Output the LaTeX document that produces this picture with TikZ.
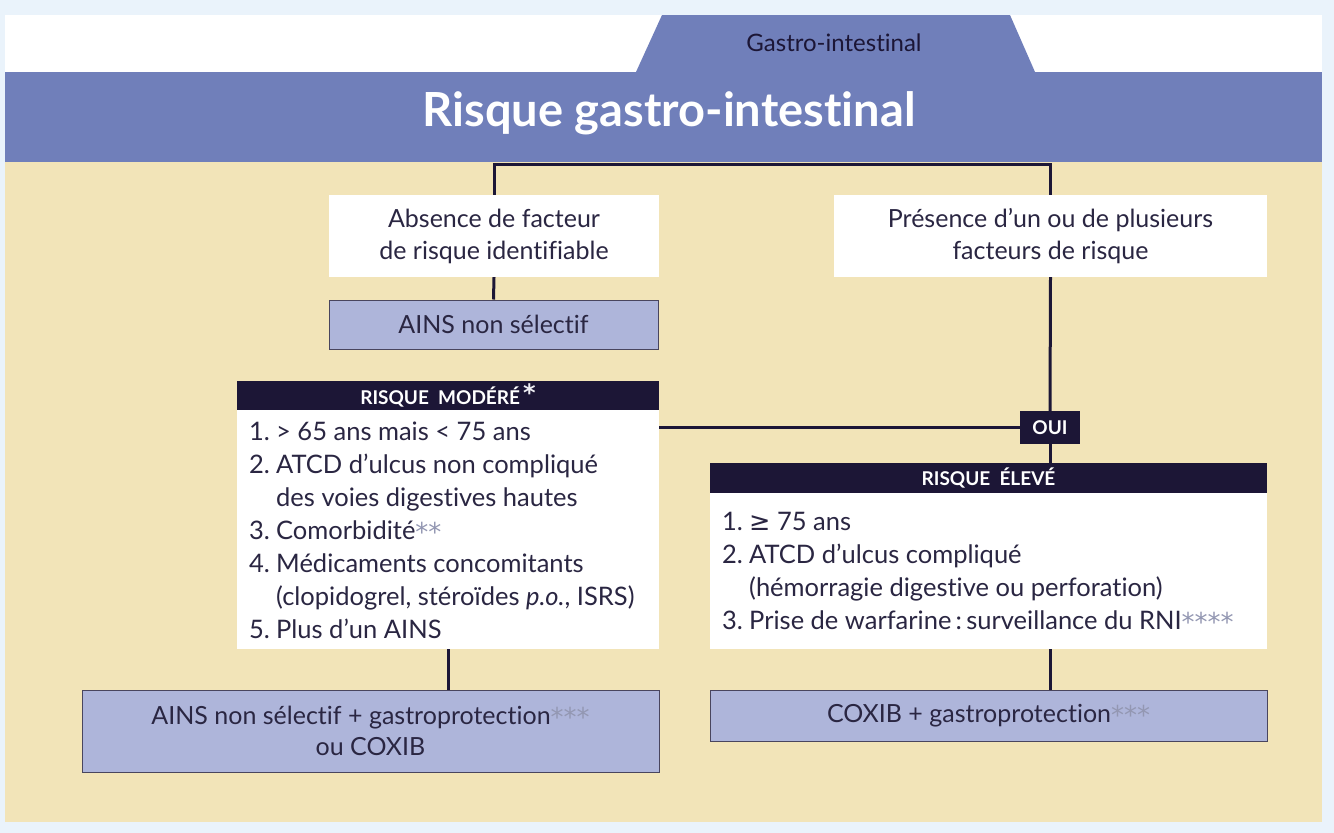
\documentclass[tikz,border=0pt]{standalone}
\usepackage{fontspec}
\setmainfont{Lato}[Ligatures=NoCommon]
\newfontfamily\sym{DejaVu Sans}
\definecolor{bgblue}{HTML}{EAF3FB}
\definecolor{band}{HTML}{707FBA}
\definecolor{beige}{HTML}{F2E4B8}
\definecolor{lav}{HTML}{AEB5DA}
\definecolor{navy}{HTML}{1C1636}
\definecolor{ink}{HTML}{2A2642}
\definecolor{star}{HTML}{9397B2}
\newcommand{\stars}[1]{\textcolor{star}{\raisebox{-2pt}{\sym\fontsize{26}{26}\selectfont #1}}}
\tikzset{
  whitebox/.style={fill=white, draw=none, text=ink, align=center, inner sep=0pt,
    font=\fontsize{25}{32}\selectfont},
  lavbox/.style={fill=lav, draw=navy!80, line width=1pt, text=ink, align=center, inner sep=0pt,
    font=\fontsize{25}{31}\selectfont},
  header/.style={fill=navy, text=white, inner sep=0pt, font=\bfseries\fontsize{19}{21}\selectfont},
  listtext/.style={text=ink, align=left, inner sep=0pt, anchor=north west,
    font=\fontsize{25.5}{33}\selectfont},
  conn/.style={draw=navy, line width=3pt}
}
\newcommand{\itm}[1]{\makebox[27pt][l]{#1}}
\newcommand{\ind}{\hspace*{27pt}}
\begin{document}
\begin{tikzpicture}[x=1pt,y=-1pt]
\useasboundingbox (0,0) rectangle (1334,833);
\fill[bgblue] (0,0) rectangle (1334,833);
\fill[white] (5,15) rectangle (1322,72);
\fill[band] (5,72) rectangle (1322,162);
\fill[band] (662,15) -- (1010,15) -- (1035,72) -- (636,72) -- cycle;
\fill[beige] (5,162) rectangle (1322,822);

\node[text=white, inner sep=0pt, font=\bfseries\fontsize{47}{50}\selectfont] (title) at (669,113) {Risque gastro-intestinal};
\node[text=navy, inner sep=0pt, font=\fontsize{24}{26}\selectfont] (tab) at (834,43) {Gastro-intestinal};

\node[whitebox, minimum width=330, minimum height=82] (absence) at (494,236) {Absence de facteur\\de risque identifiable};
\node[whitebox, minimum width=433, minimum height=82] (presence) at (1050.5,236) {Présence d’un ou de plusieurs\\facteurs de risque};
\node[lavbox, minimum width=329, minimum height=49] (ains) at (493.5,324.5) {AINS non sélectif};

\node[header, minimum width=422, minimum height=29] (modhead) at (448,395.5) {RISQUE\ \ MODÉRÉ\,\raisebox{3pt}{\textcolor{white!85!star}{\sym\fontsize{24}{24}\selectfont*}}};
\node[fill=white, inner sep=0pt, minimum width=422, minimum height=239] (modbody) at (448,529.5) {};
\node[listtext] (modlist) at (249,422) {\itm{1.}> 65 ans mais < 75 ans\\
\itm{2.}ATCD d’ulcus non compliqué\\
\ind des voies digestives hautes\\
\itm{3.}Comorbidité\stars{**}\\
\itm{4.}Médicaments concomitants\\
\ind (clopidogrel, stéroïdes \textit{p.o.}, ISRS)\\
\itm{5.}Plus d’un AINS};

\node[header, minimum width=60, minimum height=33] (oui) at (1050,427.5) {OUI};

\node[header, minimum width=557, minimum height=30] (elevehead) at (988.5,478) {RISQUE\ \ ÉLEVÉ};
\node[fill=white, inner sep=0pt, minimum width=557, minimum height=156] (elevebody) at (988.5,571) {};
\node[listtext] (elevelist) at (722,512) {\itm{1.}{\sym ≥} 75 ans\\
\itm{2.}ATCD d’ulcus compliqué\\
\ind (hémorragie digestive ou perforation)\\
\itm{3.}Prise de warfarine\,:\,surveillance du RNI\stars{****}};

\node[lavbox, minimum width=577, minimum height=82] (combo) at (370.5,731) {AINS non sélectif + gastroprotection\stars{***}\\ou COXIB};
\node[lavbox, minimum width=557, minimum height=51] (coxib) at (988.5,715.5) {COXIB + gastroprotection\stars{***}};

% connectors
\draw[conn] (absence.north) -- ++(0,-30) -| (presence.north);
\draw[conn] (absence.south) -- (ains.north);
\draw[conn] (presence.south) -- (oui.north);
\draw[conn] (oui.west) -- (oui.west -| modbody.east);
\draw[conn] (oui.south) -- (elevehead.north -| oui.south);
\draw[conn] (modbody.south) -- (combo.north -| modbody.south);
\draw[conn] (elevebody.south -| oui.south) -- (coxib.north -| oui.south);
\end{tikzpicture}
\end{document}
